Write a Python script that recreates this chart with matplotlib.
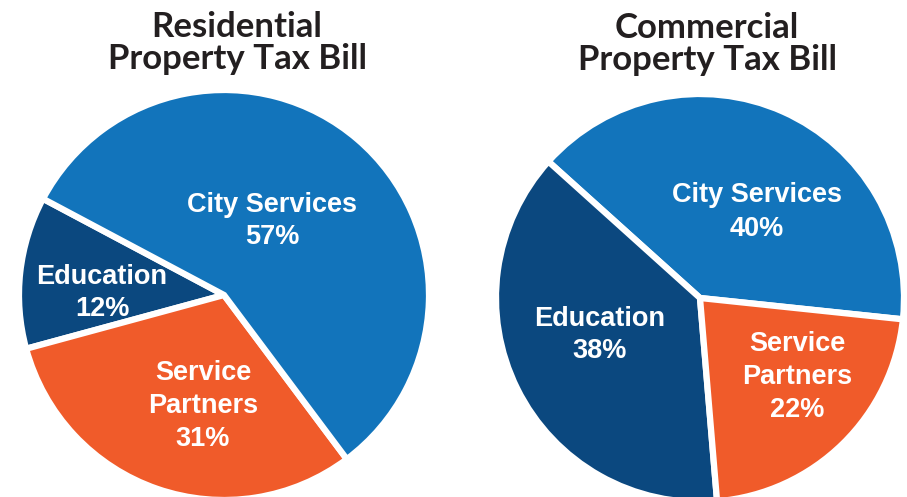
import matplotlib.pyplot as plt

# shares of each tax bill (%)
labels_res = ["Education", "Service\nPartners", "City Services"]
values_res = [12, 31, 57]
labels_com = ["City Services", "Education", "Service\nPartners"]
values_com = [40, 38, 22]

titles = ["Residential\nProperty Tax Bill", "Commercial\nProperty Tax Bill"]

BLUE = "#1274BB"
NAVY = "#0B487F"
ORANGE = "#F05B2A"

W, H = 907, 497


def yy(py):
    # pixel row (from top) -> axis y
    return H - py


fig = plt.figure(figsize=(W / 100, H / 100), dpi=100)
ax = fig.add_axes([0, 0, 1, 1])

wp = dict(edgecolor="white", linewidth=4.5)

# residential pie
ax.pie(values_res, colors=[NAVY, ORANGE, BLUE], startangle=152,
       center=(224, yy(295)), radius=205, explode=[0.015, 0.015, 0.012],
       wedgeprops=wp, frame=True)

# commercial pie
ax.pie(values_com, colors=[BLUE, NAVY, ORANGE], startangle=-6,
       center=(700, yy(298)), radius=204, explode=[0.012, 0.012, 0.015],
       wedgeprops=wp, frame=True)

ax.set_xlim(0, W)
ax.set_ylim(0, H)
ax.set_aspect("equal")
ax.axis("off")

lab = dict(color="white", fontsize=19.5, fontweight="bold", ha="center",
           va="center", family="Liberation Sans", linespacing=1.35)

# residential labels
ax.text(272, yy(221), f"{labels_res[2]}\n{values_res[2]}%", **lab)
ax.text(102, yy(293), f"{labels_res[0]}\n{values_res[0]}%", **lab)
ax.text(203, yy(406), f"{labels_res[1]}\n{values_res[1]}%", **lab)

# commercial labels
ax.text(757, yy(212), f"{labels_com[0]}\n{values_com[0]}%", **lab)
ax.text(600, yy(335), f"{labels_com[1]}\n{values_com[1]}%", **lab)
ax.text(797, yy(377), f"{labels_com[2]}\n{values_com[2]}%", **lab)

tit = dict(color="#231F20", fontsize=25, fontweight="bold", ha="center",
           va="center", family="Lato", linespacing=1.0)
ax.text(237, yy(43), titles[0], **tit)
ax.text(707, yy(44), titles[1], **tit)

fig.savefig("out.png", dpi=100)
